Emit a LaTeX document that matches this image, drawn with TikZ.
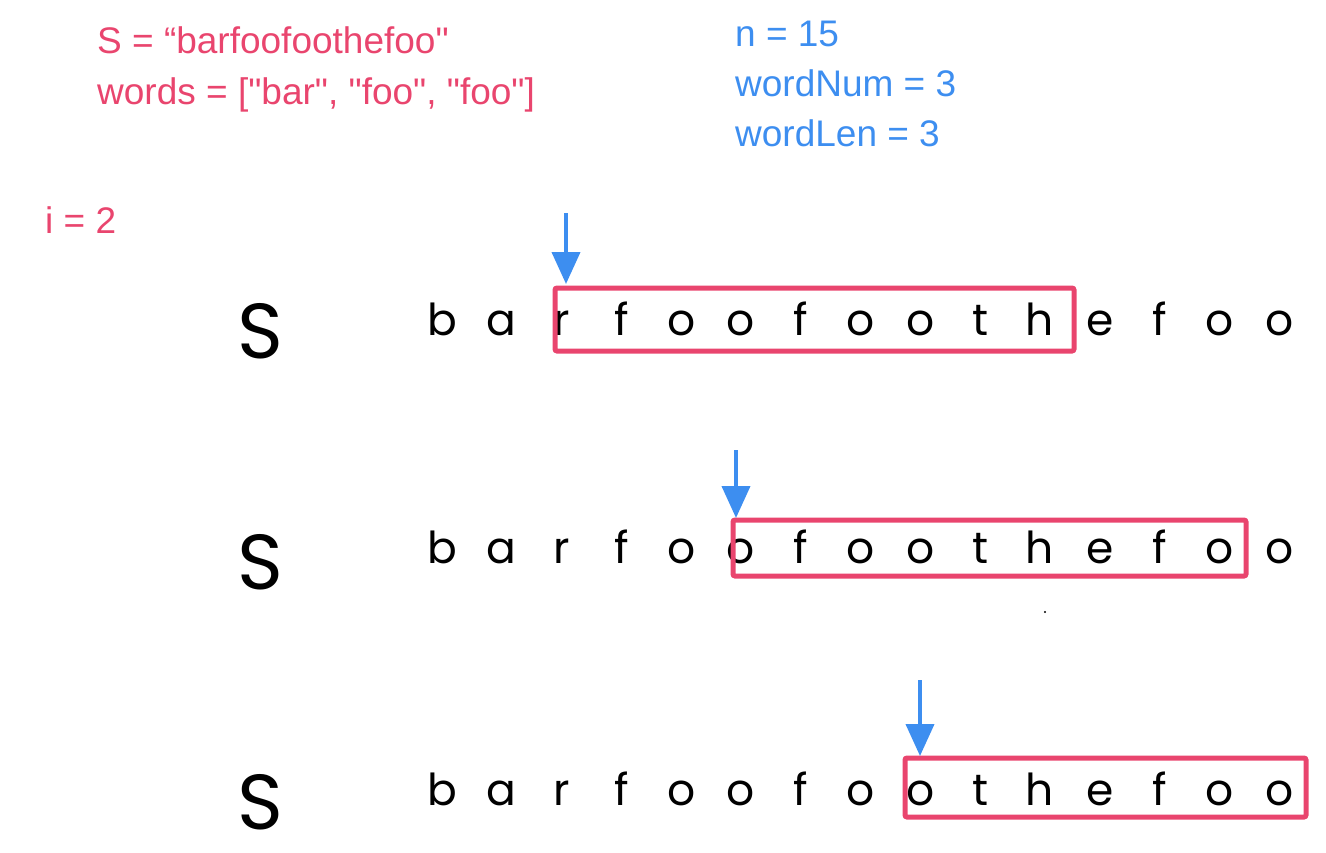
\documentclass[tikz,border=0pt]{standalone}
\usepackage{fontspec}
\setmainfont{Liberation Sans}[Ligatures=TeXOff]
\newfontfamily\handfont{Poppins}
\usetikzlibrary{arrows.meta}
\definecolor{pinkred}{HTML}{E9456E}
\definecolor{skyblue}{HTML}{3D8EF0}
\tikzset{
  info/.style={anchor=base west, inner sep=0, font=\fontsize{37}{44}\selectfont},
  pinktext/.style={info, text=pinkred},
  bluetext/.style={info, text=skyblue},
  letter/.style={anchor=base, inner sep=0, font=\handfont\fontsize{44}{50}\selectfont},
  bigS/.style={anchor=base, inner sep=0, font=\handfont\fontsize{78}{80}\selectfont},
  windowbox/.style={draw=pinkred, line width=5pt, rounded corners=2pt},
  pointer/.style={draw=skyblue, line width=4pt, -{Triangle[width=28pt,length=32pt]}},
}
\begin{document}
\begin{tikzpicture}[x=1pt,y=-1pt]
\useasboundingbox (0,0) rectangle (1326,852);
% header texts
\node[pinktext] (sdef) at (97,53) {S = “barfoofoothefoo"};
\node[pinktext] (wdef) at (97,104) {words = ["bar", "foo", "foo"]};
\node[pinktext] (idef) at (45,233) {i = 2};
\node[bluetext] (ndef) at (735,46) {n = 15};
\node[bluetext] (wnum) at (735,96) {wordNum = 3};
\node[bluetext] (wlen) at (735,146) {wordLen = 3};
% rows
\foreach \row/\base/\sy in {1/335/358, 2/563/589, 3/805/829}{
  \node[bigS] (S\row) at (260,\sy) {S};
  \foreach \ch [count=\i from 0] in {b,a,r,f,o,o,f,o,o,t,h,e,f,o,o}{
    \node[letter] (L\row-\i) at ({442+59.8*\i},\base) {\ch};
  }
}
% windows
\draw[windowbox] (555,288) rectangle (1074,351);
\draw[windowbox] (733,520) rectangle (1246,576);
\draw[windowbox] (905,758) rectangle (1306,817);
% pointers
\coordinate (p1s) at (566,213); \coordinate (p1e) at (566,284);
\coordinate (p2s) at (736,450); \coordinate (p2e) at (736,518);
\coordinate (p3s) at (920,680); \coordinate (p3e) at (920,756);
\draw[pointer] (p1s) -- (p1e);
\draw[pointer] (p2s) -- (p2e);
\draw[pointer] (p3s) -- (p3e);
% stray dot
\fill (1045,612) circle (1.2);
\end{tikzpicture}
\end{document}
